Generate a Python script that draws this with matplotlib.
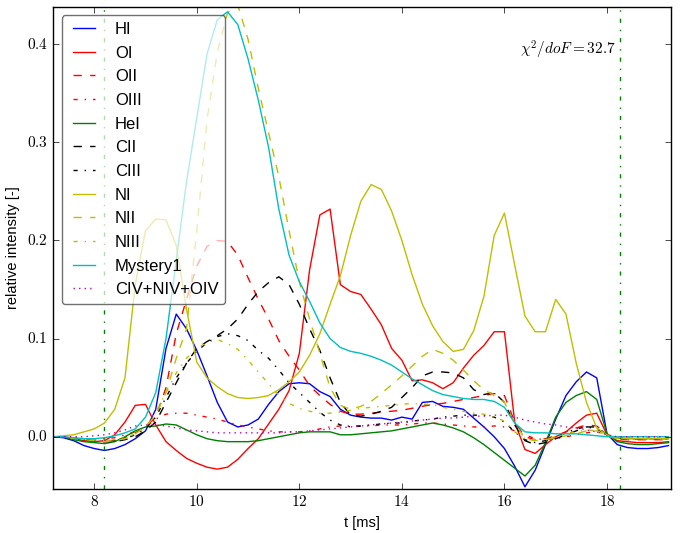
import numpy as np
import matplotlib
matplotlib.use('Agg')
import matplotlib.pyplot as plt
from matplotlib.ticker import FuncFormatter

# time grid [ms], one sample every 0.2 ms
t = np.linspace(7.2, 19.2, 61)

HI = [0.0, -0.001, -0.004, -0.009, -0.012, -0.014, -0.012, -0.008, -0.002, 0.006,
      0.028, 0.09, 0.125, 0.11, 0.088, 0.062, 0.035, 0.015, 0.01, 0.012,
      0.018, 0.033, 0.046, 0.054, 0.055, 0.054, 0.046, 0.041, 0.028, 0.022,
      0.02, 0.019, 0.019, 0.017, 0.02, 0.018, 0.035, 0.036, 0.031, 0.03,
      0.028, 0.019, 0.01, 0.0, -0.012, -0.03, -0.051, -0.034, -0.008, 0.018,
      0.042, 0.056, 0.066, 0.06, 0.003, -0.008, -0.011, -0.012, -0.012, -0.011, -0.009]
OI = [0.0, 0.0, -0.002, -0.004, -0.005, -0.004, 0.002, 0.015, 0.032, 0.033,
      0.012, -0.005, -0.014, -0.022, -0.027, -0.031, -0.033, -0.031, -0.023, -0.012,
      -0.002, 0.013, 0.028, 0.047, 0.085, 0.17, 0.226, 0.232, 0.155, 0.148,
      0.145, 0.13, 0.114, 0.09, 0.078, 0.057, 0.058, 0.055, 0.049, 0.055,
      0.07, 0.083, 0.093, 0.107, 0.107, 0.015, -0.013, -0.017, -0.008, 0.0,
      0.005, 0.014, 0.022, 0.024, 0.002, -0.004, -0.005, -0.006, -0.006, -0.006, -0.005]
OII = [0.0, 0.0, -0.002, -0.003, -0.004, -0.005, -0.004, -0.001, 0.004, 0.01,
       0.02, 0.05, 0.105, 0.14, 0.174, 0.194, 0.2, 0.199, 0.185, 0.162,
       0.14, 0.12, 0.098, 0.082, 0.068, 0.052, 0.042, 0.033, 0.026, 0.023,
       0.023, 0.024, 0.025, 0.026, 0.027, 0.029, 0.031, 0.033, 0.034, 0.036,
       0.038, 0.04, 0.042, 0.044, 0.042, 0.015, 0.0, -0.003, -0.002, 0.001,
       0.005, 0.009, 0.012, 0.011, 0.002, -0.002, -0.003, -0.003, -0.003, -0.003, -0.003]
OIII = [0.0, 0.0, -0.001, -0.002, -0.002, -0.002, -0.001, 0.002, 0.005, 0.01,
        0.018, 0.023, 0.024, 0.024, 0.022, 0.02, 0.018, 0.015, 0.012, 0.01,
        0.008, 0.006, 0.005, 0.005, 0.005, 0.006, 0.008, 0.01, 0.011, 0.011,
        0.011, 0.011, 0.012, 0.012, 0.012, 0.013, 0.014, 0.014, 0.013, 0.012,
        0.011, 0.01, 0.01, 0.011, 0.01, 0.006, 0.002, -0.002, -0.003, -0.002,
        0.0, 0.002, 0.004, 0.005, 0.002, -0.001, -0.002, -0.002, -0.002, -0.002, -0.002]
HeI = [0.0, 0.0, -0.003, -0.005, -0.006, -0.007, -0.005, 0.0, 0.006, 0.01,
       0.011, 0.013, 0.012, 0.007, 0.002, -0.002, -0.004, -0.005, -0.005, -0.005,
       -0.004, -0.002, 0.0, 0.002, 0.004, 0.005, 0.005, 0.005, 0.002, 0.002,
       0.003, 0.004, 0.005, 0.006, 0.008, 0.01, 0.012, 0.014, 0.012, 0.009,
       0.005, -0.001, -0.008, -0.016, -0.024, -0.032, -0.04, -0.029, -0.006, 0.02,
       0.035, 0.042, 0.046, 0.038, 0.003, -0.005, -0.007, -0.008, -0.008, -0.007, -0.006]
CII = [0.0, 0.0, -0.002, -0.003, -0.004, -0.005, -0.005, -0.003, 0.0, 0.006,
       0.015, 0.035, 0.055, 0.075, 0.09, 0.097, 0.103, 0.11, 0.12, 0.135,
       0.148, 0.157, 0.163, 0.155, 0.135, 0.11, 0.088, 0.06, 0.035, 0.022,
       0.021, 0.023, 0.026, 0.03, 0.04, 0.05, 0.062, 0.066, 0.066, 0.065,
       0.06, 0.048, 0.043, 0.045, 0.035, 0.012, -0.004, -0.008, -0.006, -0.002,
       0.002, 0.006, 0.01, 0.01, 0.002, -0.001, -0.002, -0.002, -0.002, -0.002, -0.002]
CIII = [0.0, 0.0, -0.001, -0.002, -0.003, -0.004, -0.004, -0.002, 0.002, 0.008,
        0.02, 0.04, 0.06, 0.075, 0.087, 0.096, 0.102, 0.105, 0.103, 0.098,
        0.088, 0.08, 0.068, 0.055, 0.045, 0.035, 0.025, 0.017, 0.012, 0.01,
        0.011, 0.012, 0.013, 0.014, 0.014, 0.016, 0.017, 0.018, 0.02, 0.021,
        0.022, 0.022, 0.022, 0.02, 0.015, 0.005, -0.003, -0.006, -0.004, 0.0,
        0.004, 0.008, 0.01, 0.008, 0.002, -0.001, -0.002, -0.002, -0.002, -0.002, -0.002]
NI = [0.0, 0.001, 0.002, 0.005, 0.008, 0.014, 0.028, 0.06, 0.155, 0.21,
      0.222, 0.221, 0.195, 0.13, 0.076, 0.06, 0.051, 0.044, 0.04, 0.039,
      0.04, 0.042, 0.048, 0.056, 0.066, 0.083, 0.105, 0.135, 0.164, 0.205,
      0.24, 0.257, 0.252, 0.23, 0.2, 0.165, 0.135, 0.113, 0.097, 0.087,
      0.089, 0.108, 0.143, 0.205, 0.228, 0.175, 0.123, 0.107, 0.107, 0.14,
      0.125, 0.075, 0.035, 0.009, 0.002, -0.001, -0.002, -0.002, -0.002, -0.002, -0.002]
NII = [0.0, 0.0, -0.002, -0.003, -0.004, -0.005, -0.004, -0.002, 0.003, 0.01,
       0.022, 0.045, 0.08, 0.11, 0.21, 0.323, 0.392, 0.432, 0.44, 0.405,
       0.355, 0.31, 0.265, 0.21, 0.158, 0.12, 0.085, 0.05, 0.032, 0.028,
       0.031, 0.036, 0.044, 0.053, 0.062, 0.072, 0.082, 0.089, 0.085, 0.078,
       0.068, 0.057, 0.048, 0.042, 0.035, 0.014, -0.002, -0.004, -0.003, -0.001,
       0.001, 0.003, 0.006, 0.006, 0.001, -0.002, -0.002, -0.002, -0.002, -0.002, -0.002]
NIII = [0.0, 0.0, -0.001, -0.002, -0.003, -0.004, -0.003, -0.001, 0.003, 0.01,
        0.025, 0.045, 0.065, 0.08, 0.09, 0.096, 0.099, 0.095, 0.089, 0.078,
        0.066, 0.054, 0.042, 0.034, 0.029, 0.026, 0.024, 0.024, 0.025, 0.027,
        0.029, 0.03, 0.031, 0.032, 0.033, 0.034, 0.033, 0.033, 0.03, 0.028,
        0.026, 0.024, 0.023, 0.02, 0.016, 0.005, -0.002, -0.003, -0.002, 0.0,
        0.003, 0.005, 0.007, 0.006, 0.001, -0.001, -0.001, -0.001, -0.001, -0.001, -0.001]
Mystery1 = [0.0, 0.0, -0.001, -0.002, -0.002, -0.001, 0.001, 0.004, 0.008, 0.02,
            0.045, 0.1, 0.18, 0.26, 0.325, 0.39, 0.425, 0.433, 0.42, 0.385,
            0.343, 0.295, 0.232, 0.185, 0.158, 0.138, 0.116, 0.1, 0.091, 0.087,
            0.085, 0.082, 0.078, 0.073, 0.066, 0.059, 0.053, 0.047, 0.043, 0.041,
            0.039, 0.038, 0.038, 0.036, 0.03, 0.014, 0.005, 0.004, 0.004, 0.003,
            0.003, 0.003, 0.002, 0.001, 0.0, 0.0, 0.0, 0.0, 0.0, 0.0, 0.0]
CNOIV = [0.0, 0.0, 0.0, 0.0, 0.001, 0.002, 0.004, 0.007, 0.011, 0.012,
         0.012, 0.011, 0.009, 0.007, 0.006, 0.005, 0.004, 0.004, 0.004, 0.004,
         0.004, 0.004, 0.004, 0.005, 0.005, 0.006, 0.007, 0.008, 0.009, 0.01,
         0.011, 0.012, 0.013, 0.014, 0.015, 0.016, 0.017, 0.018, 0.019, 0.019,
         0.02, 0.021, 0.021, 0.022, 0.022, 0.02, 0.017, 0.015, 0.013, 0.012,
         0.01, 0.009, 0.007, 0.005, 0.002, 0.0, 0.0, 0.0, 0.0, 0.0, 0.0]

series = [
    ('HI', HI, 'b-'), ('OI', OI, 'r-'), ('OII', OII, 'r--'), ('OIII', OIII, 'r-.'),
    ('HeI', HeI, 'g-'), ('CII', CII, 'k--'), ('CIII', CIII, 'k-.'),
    ('NI', NI, 'y-'), ('NII', NII, 'y--'), ('NIII', NIII, 'y-.'),
    ('Mystery1', Mystery1, 'c-'), ('CIV+NIV+OIV', CNOIV, 'm:'),
]

# fit window boundaries
t_start, t_end = 8.2, 18.25
chi2 = 32.7

plt.style.use('classic')
plt.rcParams['mathtext.fontset'] = 'cm'

fig = plt.figure(figsize=(6.82, 5.33), dpi=100)
ax = fig.add_axes([0.078, 0.083, 0.906, 0.904])

for name, vals, fmt in series:
    ax.plot(t, vals, fmt, label=name)

ax.axvline(t_start, color='g', ls='-.', lw=1.0)
ax.axvline(t_end, color='g', ls='-.', lw=1.0)

ax.set_xlim(7.2, 19.25)
ax.set_ylim(-0.053, 0.438)
ax.set_xticks([8, 10, 12, 14, 16, 18])
ax.set_yticks([0.0, 0.1, 0.2, 0.3, 0.4])
ax.xaxis.set_major_formatter(FuncFormatter(lambda v, p: r'$%d$' % v))
ax.yaxis.set_major_formatter(FuncFormatter(lambda v, p: r'$%.1f$' % v))
ax.tick_params(labelsize=11)

ax.set_xlabel('t [ms]', family='Liberation Sans', fontsize=10.5)
ax.set_ylabel('relative intensity [-]', family='Liberation Sans', fontsize=10.5)

ax.text(0.755, 0.91, r'$\chi^2/doF=%.1f$' % chi2, transform=ax.transAxes,
        fontsize=11, va='center')

leg = ax.legend(loc='upper left', fancybox=True, framealpha=0.7,
                handlelength=1.9, handletextpad=0.9, borderaxespad=0.5,
                labelspacing=0.52, prop={'family': 'Liberation Sans', 'size': 12})
leg.get_frame().set_edgecolor('0.2')

fig.savefig('out.png', dpi=100)
